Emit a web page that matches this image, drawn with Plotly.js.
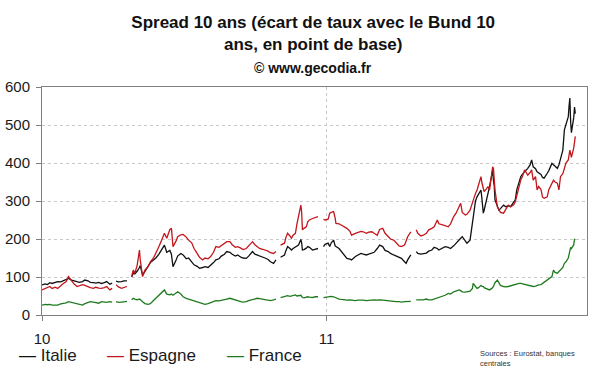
<!DOCTYPE html>
<html>
<head>
<meta charset="utf-8">
<script src="https://cdn.plot.ly/plotly-3.0.1.min.js"></script>
<style>html,body{margin:0;padding:0;background:#fff;}#chart{width:600px;height:372px;}</style>
</head>
<body>
<div id="chart"></div>
<script>
// ---- Data (spread in basis points vs Bund 10y) ----
const dates = [
  '2010-01-01','2010-01-05','2010-01-08','2010-01-11','2010-01-14','2010-01-18','2010-01-21','2010-01-25','2010-01-28',
  '2010-02-01','2010-02-04','2010-02-08','2010-02-11','2010-02-15','2010-02-18','2010-02-22','2010-02-25',
  '2010-03-01','2010-03-04','2010-03-08','2010-03-11','2010-03-15','2010-03-18','2010-03-22','2010-03-25','2010-03-29',
  '2010-04-01','2010-04-02','2010-04-06','2010-04-09','2010-04-13','2010-04-16','2010-04-20','2010-04-22','2010-04-26','2010-04-28','2010-04-30',
  '2010-05-03','2010-05-06','2010-05-07','2010-05-10','2010-05-13','2010-05-17','2010-05-20','2010-05-24','2010-05-27','2010-05-31',
  '2010-06-03','2010-06-07','2010-06-10','2010-06-14','2010-06-16','2010-06-18','2010-06-22','2010-06-24','2010-06-28',
  '2010-07-01','2010-07-05','2010-07-08','2010-07-12','2010-07-15','2010-07-19','2010-07-22','2010-07-26','2010-07-29',
  '2010-08-02','2010-08-05','2010-08-09','2010-08-12','2010-08-16','2010-08-19','2010-08-23','2010-08-26','2010-08-30',
  '2010-09-02','2010-09-06','2010-09-09','2010-09-13','2010-09-16','2010-09-20','2010-09-23','2010-09-28',
  '2010-10-01','2010-10-04','2010-10-07','2010-10-11','2010-10-14','2010-10-18','2010-10-21','2010-10-25','2010-10-28',
  '2010-11-01','2010-11-03','2010-11-05','2010-11-08','2010-11-10','2010-11-12','2010-11-15','2010-11-17','2010-11-19','2010-11-22','2010-11-24','2010-11-26','2010-11-29','2010-11-30',
  '2010-12-01','2010-12-03','2010-12-06','2010-12-08','2010-12-10','2010-12-14','2010-12-17','2010-12-21','2010-12-24','2010-12-28','2010-12-30',
  '2011-01-03','2011-01-05','2011-01-07','2011-01-10','2011-01-12','2011-01-13','2011-01-17','2011-01-20','2011-01-24','2011-01-27','2011-01-31',
  '2011-02-02','2011-02-07','2011-02-10','2011-02-14','2011-02-17','2011-02-21','2011-02-24','2011-02-28',
  '2011-03-03','2011-03-07','2011-03-10','2011-03-14','2011-03-17','2011-03-21','2011-03-24','2011-03-28','2011-03-31',
  '2011-04-04','2011-04-07','2011-04-11','2011-04-13','2011-04-15','2011-04-19','2011-04-22','2011-04-26','2011-04-28',
  '2011-05-02','2011-05-05','2011-05-09','2011-05-12','2011-05-16','2011-05-19','2011-05-23','2011-05-25','2011-05-30',
  '2011-06-02','2011-06-06','2011-06-09','2011-06-13','2011-06-16','2011-06-20','2011-06-22','2011-06-24','2011-06-28','2011-06-30',
  '2011-07-04','2011-07-07','2011-07-08','2011-07-11','2011-07-13','2011-07-15','2011-07-18','2011-07-19','2011-07-21','2011-07-22','2011-07-25','2011-07-27','2011-07-29',
  '2011-08-01','2011-08-02','2011-08-03','2011-08-04','2011-08-05','2011-08-08','2011-08-10','2011-08-12','2011-08-16','2011-08-19','2011-08-22','2011-08-25','2011-08-29','2011-08-31',
  '2011-09-02','2011-09-05','2011-09-07','2011-09-09','2011-09-12','2011-09-14','2011-09-16','2011-09-19','2011-09-21','2011-09-23','2011-09-26','2011-09-28','2011-09-30',
  '2011-10-03','2011-10-05','2011-10-07','2011-10-11','2011-10-13','2011-10-17','2011-10-19','2011-10-21','2011-10-24','2011-10-26','2011-10-28','2011-10-31',
  '2011-11-02','2011-11-04','2011-11-07','2011-11-08','2011-11-09','2011-11-10','2011-11-11','2011-11-14','2011-11-15','2011-11-16'
];
const italie = [
  79,82,80,85,83,86,88,87,90,
  92,96,92,90,88,86,88,92,
  90,86,85,84,86,83,85,88,81,
  84,null,89,87,88,90,90,null,100,110,108,
  115,125,130,105,115,125,138,145,150,160,
  170,184,165,170,160,127,145,155,162,
  158,148,150,140,132,128,123,125,127,
  125,130,138,145,148,155,160,167,165,
  160,155,158,152,150,149,155,167,
  160,158,154,152,150,146,140,136,145,
  null,152,155,158,170,180,175,171,175,178,182,184,199,190,
  171,172,176,180,178,171,173,175,null,180,186,
  189,180,190,197,182,180,175,167,158,149,147,
  145,154,158,162,160,158,160,162,
  165,175,184,180,170,167,162,158,155,
  152,149,140,136,145,158,null,167,162,
  160,162,163,168,171,178,175,171,178,
  180,178,175,182,189,200,202,206,195,189,
  197,240,268,300,311,320,329,311,268,275,300,320,338,
  370,382,355,340,303,285,276,280,289,285,287,285,295,303,
  330,355,364,370,377,380,386,395,408,390,385,377,375,
  370,362,360,373,380,399,395,390,386,395,410,434,
  487,500,522,550,571,509,480,520,547,530
];
const espagne = [
  66,70,72,75,70,73,70,78,82,
  88,101,90,82,75,78,80,78,
  74,72,70,73,71,70,72,75,66,
  70,null,80,74,70,73,75,null,101,118,110,
  130,171,145,101,118,127,140,150,162,180,
  195,215,202,225,228,180,195,206,211,
  212,205,197,190,175,162,152,145,150,
  148,153,165,180,178,183,188,193,193,
  185,178,180,176,172,175,182,193,
  185,180,175,173,171,168,164,162,167,
  null,184,186,189,205,215,208,202,210,215,240,259,289,270,
  224,228,232,246,250,254,256,259,null,252,250,
  252,268,270,272,255,241,240,237,232,228,220,
  210,215,218,220,219,215,218,219,
  215,210,225,228,215,206,200,197,190,
  182,180,184,195,206,219,null,224,215,
  208,210,215,224,228,232,250,240,237,
  235,232,240,259,268,285,294,270,263,265,
  276,295,303,320,329,345,364,350,329,325,332,338,329,
  375,390,386,360,329,285,275,270,268,280,289,285,290,298,
  315,340,355,364,382,375,368,375,382,355,364,329,338,
  330,310,307,311,330,347,355,350,347,329,364,372,
  390,400,408,420,434,425,415,440,469,470
];
const france = [
  26,28,27,28,26,27,26,29,30,
  32,35,33,31,28,27,26,30,
  32,35,34,32,31,35,34,33,35,
  34,null,35,33,34,35,36,null,40,44,42,
  40,42,41,35,30,28,30,38,44,50,
  58,66,55,53,55,52,58,61,55,
  48,44,42,38,36,34,32,30,28,
  30,32,35,38,37,39,40,42,44,
  42,38,36,35,34,35,38,40,
  42,44,43,41,40,39,38,40,42,
  null,46,47,48,50,51,49,50,52,53,50,51,52,49,
  46,45,47,48,47,46,48,48,null,46,47,
  48,50,49,48,46,44,42,41,40,39,40,
  39,38,39,40,39,38,39,40,
  40,39,40,39,38,37,36,35,35,
  35,34,35,35,36,36,null,40,40,
  39,40,42,40,40,42,44,46,48,
  52,57,55,61,63,66,64,61,60,61,
  63,70,83,75,70,72,78,76,75,72,70,68,66,
  70,72,75,80,85,92,85,78,75,74,75,77,79,80,
  82,83,83,82,81,80,79,78,76,75,76,78,79,
  80,83,86,92,96,101,118,112,110,114,118,125,
  136,140,150,160,171,178,175,185,200,198
];
const seriesNames = ['Italie', 'Espagne', 'France'];
const seriesColors = ['#111111', '#c3161c', '#1f7a1f'];
const tickVals = ['2010-01-01', '2011-01-01'];
const tickText = ['10', '11'];
const xRange = ['2010-01-01', '2011-12-01'];

const FONT = 'Liberation Sans, Arial, sans-serif';
const values = [italie, espagne, france];

const traces = seriesNames.map((n, i) => ({
  type: 'scatter', mode: 'lines', name: n,
  x: dates, y: values[i],
  connectgaps: false,
  line: {color: seriesColors[i], width: 1.3},
  hoverinfo: 'x+y+name'
}));

// legend drawn as annotations (short dash + label), like the original
const legendX = [-0.046, 0.1156, 0.3358];
const annotations = seriesNames.map((n, i) => ({
  xref: 'paper', yref: 'paper', x: legendX[i], y: -0.178,
  xanchor: 'left', yanchor: 'middle', showarrow: false,
  text: '<span style="color:' + seriesColors[i] + '">—</span> ' + n,
  font: {family: FONT, size: 17, color: '#1a1a1a'}
}));
annotations.push({
  xref: 'paper', yref: 'paper', x: 0.497, y: 1.083,
  xanchor: 'center', yanchor: 'middle', showarrow: false,
  text: '<b>© www.gecodia.fr</b>',
  font: {family: FONT, size: 14, color: '#111'}
});
annotations.push({
  xref: 'paper', yref: 'paper', x: 0.80, y: -0.14,
  xanchor: 'left', yanchor: 'top', align: 'left', showarrow: false,
  text: 'Sources : Eurostat, banques<br>centrales',
  font: {family: FONT, size: 7.5, color: '#333'}
});

const layout = {
  width: 600, height: 372,
  margin: {l: 42, r: 13, t: 87, b: 57},
  paper_bgcolor: '#fff', plot_bgcolor: '#fff',
  showlegend: false,
  title: {
    text: '<b>Spread 10 ans (écart de taux avec le Bund 10<br>ans, en point de base)</b>',
    font: {family: FONT, size: 17, color: '#111'},
    x: 0.522, xanchor: 'center', xref: 'container',
    y: 0.925, yanchor: 'top', yref: 'container'
  },
  xaxis: {
    type: 'date', range: xRange,
    tickvals: tickVals, ticktext: tickText,
    showgrid: true, gridcolor: '#c8c8c8', griddash: 'dot', gridwidth: 1,
    showline: true, linecolor: '#808080', linewidth: 1, mirror: true,
    ticks: 'outside', ticklen: 5, tickcolor: '#808080',
    ticklabelstandoff: 5,
    tickfont: {family: FONT, size: 15, color: '#1a1a1a'},
    zeroline: false, fixedrange: true
  },
  yaxis: {
    range: [0, 600], dtick: 100, tick0: 0,
    showgrid: true, gridcolor: '#c8c8c8', griddash: 'dot', gridwidth: 1,
    showline: true, linecolor: '#808080', linewidth: 1, mirror: true,
    ticks: 'outside', ticklen: 5, tickcolor: '#808080',
    ticklabelstandoff: 3,
    tickfont: {family: FONT, size: 15, color: '#1a1a1a'},
    zeroline: false, fixedrange: true
  },
  annotations: annotations
};

Plotly.newPlot('chart', traces, layout, {displayModeBar: false, staticPlot: true});
</script>
</body>
</html>
